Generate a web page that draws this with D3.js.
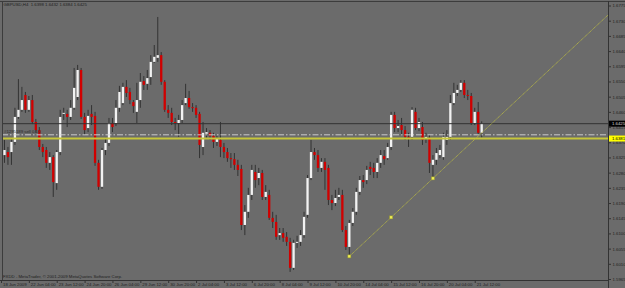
<!DOCTYPE html>
<html><head><meta charset="utf-8">
<script src="https://cdn.jsdelivr.net/npm/d3@7"></script>
<style>html,body{margin:0;padding:0;background:#6b6b6b;overflow:hidden}svg{display:block}</style>
</head><body><svg id="c" width="625" height="288"></svg>
<script>
// ---- data (GBPUSD, H4) ----
const opens=[1.6383,1.6332,1.6341,1.6341,1.6371,1.6445,1.6466,1.6510,1.6466,1.6495,1.6430,1.6406,1.6356,1.6347,1.6309,1.6326,1.6249,1.6341,1.6454,1.6454,1.6445,1.6472,1.6504,1.6584,1.6445,1.6412,1.6454,1.6448,1.6309,1.6238,1.6347,1.6368,1.6427,1.6427,1.6472,1.6486,1.6534,1.6519,1.6489,1.6460,1.6495,1.6551,1.6543,1.6563,1.6608,1.6620,1.6628,1.6549,1.6466,1.6457,1.6430,1.6427,1.6436,1.6486,1.6501,1.6474,1.6472,1.6454,1.6356,1.6395,1.6398,1.6389,1.6371,1.6377,1.6356,1.6341,1.6323,1.6320,1.6303,1.6291,1.6125,1.6164,1.6214,1.6282,1.6264,1.6279,1.6208,1.6214,1.6146,1.6134,1.6095,1.6101,1.6090,1.6075,1.5998,1.6072,1.6075,1.6095,1.6155,1.6264,1.6341,1.6332,1.6294,1.6312,1.6294,1.6199,1.6190,1.6208,1.6214,1.6110,1.6060,1.6131,1.6164,1.6223,1.6258,1.6258,1.6297,1.6294,1.6282,1.6309,1.6329,1.6323,1.6356,1.6451,1.6412,1.6421,1.6406,1.6386,1.6386,1.6460,1.6412,1.6415,1.6380,1.6383,1.6303,1.6318,1.6332,1.6326,1.6377,1.6386,1.6486,1.6516,1.6525,1.6546,1.6510,1.6507,1.6427,1.6460,1.6398];
const highs=[1.6392,1.6377,1.6356,1.6383,1.6472,1.6557,1.6534,1.6519,1.6507,1.6510,1.6439,1.6415,1.6365,1.6356,1.6341,1.6332,1.6347,1.6466,1.6472,1.6466,1.6495,1.6590,1.6599,1.6590,1.6457,1.6466,1.6480,1.6460,1.6318,1.6353,1.6383,1.6442,1.6442,1.6495,1.6537,1.6546,1.6554,1.6531,1.6495,1.6546,1.6575,1.6566,1.6584,1.6628,1.6658,1.6741,1.6637,1.6554,1.6480,1.6472,1.6442,1.6451,1.6495,1.6543,1.6522,1.6486,1.6480,1.6460,1.6430,1.6412,1.6406,1.6398,1.6389,1.6430,1.6368,1.6353,1.6338,1.6338,1.6318,1.6303,1.6184,1.6235,1.6303,1.6303,1.6294,1.6288,1.6243,1.6229,1.6164,1.6155,1.6116,1.6116,1.6104,1.6087,1.6081,1.6093,1.6110,1.6164,1.6273,1.6377,1.6353,1.6347,1.6323,1.6323,1.6303,1.6214,1.6229,1.6235,1.6229,1.6122,1.6140,1.6175,1.6235,1.6270,1.6273,1.6300,1.6312,1.6309,1.6323,1.6347,1.6347,1.6368,1.6460,1.6460,1.6436,1.6442,1.6418,1.6398,1.6474,1.6472,1.6442,1.6430,1.6398,1.6392,1.6332,1.6353,1.6362,1.6398,1.6406,1.6510,1.6546,1.6540,1.6554,1.6554,1.6525,1.6516,1.6472,1.6489,1.6432];
const lows=[1.6279,1.6309,1.6303,1.6303,1.6362,1.6439,1.6460,1.6457,1.6460,1.6424,1.6398,1.6347,1.6326,1.6294,1.6288,1.6208,1.6229,1.6332,1.6436,1.6415,1.6436,1.6466,1.6495,1.6439,1.6392,1.6400,1.6421,1.6300,1.6229,1.6232,1.6332,1.6359,1.6400,1.6418,1.6460,1.6480,1.6504,1.6483,1.6457,1.6427,1.6472,1.6525,1.6525,1.6540,1.6605,1.6608,1.6540,1.6460,1.6442,1.6421,1.6406,1.6386,1.6427,1.6480,1.6469,1.6460,1.6442,1.6323,1.6332,1.6383,1.6377,1.6353,1.6359,1.6326,1.6323,1.6312,1.6294,1.6288,1.6270,1.6110,1.6095,1.6146,1.6199,1.6235,1.6243,1.6199,1.6199,1.6140,1.6116,1.6081,1.6081,1.6075,1.6063,1.5986,1.5992,1.6057,1.6063,1.6087,1.6146,1.6258,1.6318,1.6282,1.6282,1.6229,1.6184,1.6169,1.6181,1.6199,1.6104,1.6051,1.6032,1.6122,1.6155,1.6214,1.6235,1.6246,1.6273,1.6264,1.6264,1.6294,1.6303,1.6318,1.6347,1.6400,1.6400,1.6392,1.6377,1.6356,1.6377,1.6406,1.6403,1.6362,1.6368,1.6279,1.6263,1.6303,1.6323,1.6318,1.6362,1.6377,1.6480,1.6507,1.6519,1.6501,1.6495,1.6421,1.6421,1.6392,1.6384];
const closes=[1.6332,1.6347,1.6326,1.6371,1.6445,1.6466,1.6495,1.6466,1.6495,1.6430,1.6406,1.6356,1.6341,1.6309,1.6326,1.6252,1.6341,1.6445,1.6457,1.6445,1.6472,1.6531,1.6584,1.6445,1.6406,1.6448,1.6445,1.6309,1.6238,1.6347,1.6368,1.6427,1.6415,1.6472,1.6519,1.6534,1.6516,1.6495,1.6477,1.6495,1.6549,1.6540,1.6560,1.6608,1.6623,1.6628,1.6549,1.6466,1.6457,1.6430,1.6427,1.6436,1.6480,1.6501,1.6474,1.6472,1.6451,1.6362,1.6398,1.6400,1.6389,1.6371,1.6380,1.6356,1.6341,1.6323,1.6320,1.6303,1.6288,1.6125,1.6164,1.6214,1.6288,1.6258,1.6279,1.6208,1.6223,1.6146,1.6134,1.6090,1.6101,1.6087,1.6075,1.5998,1.6072,1.6075,1.6095,1.6149,1.6264,1.6341,1.6332,1.6294,1.6312,1.6288,1.6199,1.6190,1.6205,1.6214,1.6110,1.6060,1.6131,1.6164,1.6223,1.6258,1.6252,1.6288,1.6291,1.6282,1.6309,1.6332,1.6320,1.6356,1.6451,1.6412,1.6418,1.6406,1.6386,1.6383,1.6466,1.6412,1.6430,1.6377,1.6386,1.6309,1.6318,1.6338,1.6347,1.6386,1.6386,1.6486,1.6516,1.6525,1.6546,1.6510,1.6507,1.6427,1.6460,1.6398,1.6425];
const timeLabels=["18 Jun 2009","22 Jun 04:00","23 Jun 12:00","24 Jun 20:00","26 Jun 04:00","29 Jun 12:00","30 Jun 20:00","2 Jul 04:00","3 Jul 12:00","6 Jul 20:00","8 Jul 04:00","9 Jul 12:00","10 Jul 20:00","14 Jul 04:00","15 Jul 12:00","16 Jul 20:00","20 Jul 04:00","21 Jul 12:00"];
const timeLabelBars=[0,8,16,24,32,40,48,56,64,72,80,88,96,104,112,120,128,136];
const priceTicks=[1.6775,1.6730,1.6685,1.6640,1.6595,1.6550,1.6505,1.6460,1.6415,1.6370,1.6325,1.6280,1.6235,1.6190,1.6145,1.6100,1.6055,1.6010,1.5965];
const bidPrice=1.6425;
const hLinePrice=1.6381;
const orderPrice=1.6392;
const trendBars=[100,124];
const trendPrices=[1.6032,1.6263];
const headerText="GBPUSD,H4  1.6398 1.6432 1.6384 1.6425";
const footerText="FXDD - MetaTrader, \u00a9 2001-2009 MetaQuotes Software Corp.";
const orderText="#1295189 sell 0.10";

// ---- drawing ----
const W=625,H=288;
const P={l:2,r:608.5,t:2,b:280.5};
const FONT="'Liberation Sans', Arial, sans-serif";
const FS=4.3;
const svg=d3.select("#c");
const x=d3.scaleLinear().domain([0,138]).range([1,481.7]);
const y=d3.scaleLinear().domain([1.5965,1.6775]).range([279,5.5]);

svg.append("rect").attr("width",W).attr("height",H).attr("fill","#6b6b6b");
svg.append("defs").append("clipPath").attr("id","clip")
  .append("rect").attr("x",P.l+0.5).attr("y",P.t).attr("width",P.r-P.l-0.5).attr("height",P.b-P.t);

const g=svg.append("g").attr("clip-path","url(#clip)");
const data=d3.range(opens.length).map(i=>({i,o:opens[i],h:highs[i],l:lows[i],c:closes[i]}));

// wicks
g.selectAll("line.wick").data(data).join("line").attr("class","wick")
  .attr("x1",d=>x(d.i)).attr("x2",d=>x(d.i))
  .attr("y1",d=>y(d.h)).attr("y2",d=>y(d.l))
  .attr("stroke","#333").attr("stroke-width",1);
// bodies
g.selectAll("rect.body").data(data).join("rect").attr("class","body")
  .attr("x",d=>x(d.i)-1.15).attr("width",2.3)
  .attr("y",d=>y(Math.max(d.o,d.c)))
  .attr("height",d=>Math.max(1,Math.abs(y(d.o)-y(d.c))))
  .attr("fill",d=>d.c>=d.o?"#f2f2f2":"#d10000");

// horizontal lines
g.append("line").attr("x1",P.l).attr("x2",P.r).attr("y1",y(bidPrice)).attr("y2",y(bidPrice))
  .attr("stroke","#333").attr("stroke-width",1);
g.append("line").attr("x1",P.l).attr("x2",P.r).attr("y1",y(orderPrice)).attr("y2",y(orderPrice))
  .attr("stroke","#d6d6d6").attr("stroke-width",0.9).attr("stroke-dasharray","6,2,1.5,2");
g.append("line").attr("x1",P.l).attr("x2",P.r).attr("y1",y(hLinePrice)).attr("y2",y(hLinePrice))
  .attr("stroke","#c6c63a").attr("stroke-width",2);

// trend line (ray)
const trend=d3.scaleLinear().domain(trendBars).range(trendPrices);
const endBar=x.invert(P.r);
g.append("line")
  .attr("x1",x(trendBars[0])).attr("y1",y(trend(trendBars[0])))
  .attr("x2",x(endBar)).attr("y2",y(trend(endBar)))
  .attr("stroke","#b9b945").attr("stroke-width",0.9).attr("stroke-dasharray","1.2,0.6");
const anchors=[trendBars[0],(trendBars[0]+trendBars[1])/2,trendBars[1]];
g.selectAll("rect.anchor").data(anchors).join("rect").attr("class","anchor")
  .attr("x",d=>x(d)-1.5).attr("y",d=>y(trend(d))-1.5).attr("width",3).attr("height",3)
  .attr("fill","#eeee55").attr("stroke","#9a9a2a").attr("stroke-width",0.5);

// order label
svg.append("text").attr("x",4).attr("y",y(orderPrice)-2.2).text(orderText)
  .attr("font-family",FONT).attr("font-size",FS).attr("fill","#2a2a2a");

// frame
svg.append("line").attr("x1",0).attr("x2",W).attr("y1",1.5).attr("y2",1.5).attr("stroke","#3c3c3c");
svg.append("line").attr("x1",P.l+0.5).attr("x2",P.l+0.5).attr("y1",1).attr("y2",P.b).attr("stroke","#3c3c3c");
svg.append("line").attr("x1",0).attr("x2",P.r).attr("y1",P.b).attr("y2",P.b).attr("stroke","#333");
svg.append("line").attr("x1",P.r).attr("x2",P.r).attr("y1",1).attr("y2",H).attr("stroke","#333");

// price axis
const ya=svg.append("g").attr("transform",`translate(${P.r},0)`)
  .call(d3.axisRight(y).tickValues(priceTicks).tickFormat(d3.format(".4f")).tickSize(2.5).tickPadding(1.5));
ya.select(".domain").remove();
ya.selectAll("line").attr("stroke","#333");
ya.selectAll("text").attr("font-family",FONT).attr("font-size",FS).attr("fill","#222");

// time axis
const xa=svg.append("g").attr("transform",`translate(0,${P.b})`)
  .call(d3.axisBottom(x).tickValues(timeLabelBars).tickFormat((d,k)=>timeLabels[k]).tickSize(2.5));
xa.select(".domain").remove();
xa.selectAll("line").attr("stroke","#333");
xa.selectAll("text").attr("font-family",FONT).attr("font-size",FS).attr("fill","#222")
  .attr("text-anchor","start").attr("x",1.5).attr("dy",null).attr("y",5.5);

// price markers on axis
function marker(price,bg,fg){
  const yy=y(price);
  svg.append("rect").attr("x",P.r+0.5).attr("y",yy-3).attr("width",W-P.r).attr("height",6).attr("fill",bg);
  svg.append("text").attr("x",P.r+3.5).attr("y",yy).attr("dy","0.35em").text(d3.format(".4f")(price))
    .attr("font-family",FONT).attr("font-size",FS).attr("fill",fg);
}
marker(bidPrice,"#000","#d8d8d8");
marker(hLinePrice,"#ffff00","#000");

// header and footer
svg.append("text").attr("x",3.5).attr("y",6).text(headerText)
  .attr("font-family",FONT).attr("font-size",FS).attr("fill","#1e1e1e").style("white-space","pre");
svg.append("text").attr("x",3).attr("y",278).text(footerText)
  .attr("font-family",FONT).attr("font-size",FS).attr("fill","#1e1e1e");
</script></body></html>
